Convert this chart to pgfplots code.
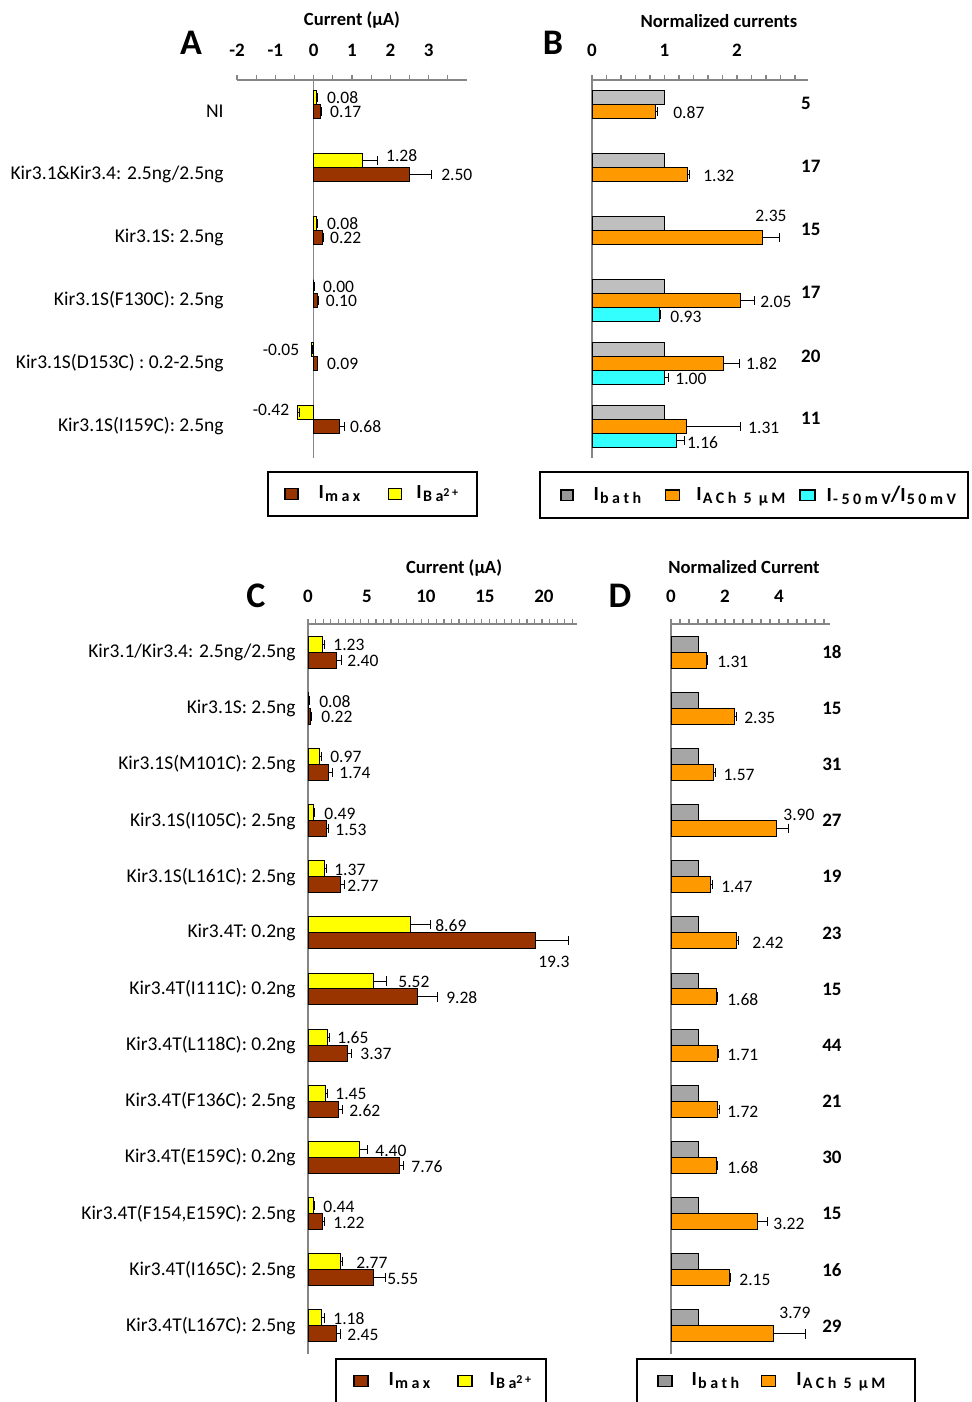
\documentclass[border=0pt]{standalone}
\usepackage{fontspec}
\setmainfont{Carlito}
\usepackage{pgfplots}
\pgfplotsset{compat=1.18}
\definecolor{cbrown}{HTML}{993300}
\definecolor{cyellow}{HTML}{FFFF00}
\definecolor{cgrayB}{HTML}{BFBFBF}
\definecolor{cgrayD}{HTML}{A6A6A6}
\definecolor{corange}{HTML}{FF9900}
\definecolor{ccyan}{HTML}{33FFFF}
\definecolor{caxis}{HTML}{868686}
\definecolor{clegray}{HTML}{999999}
\newcommand{\LI}[1]{{\fontsize{10}{12}\selectfont\bfseries I}\hspace{0.6pt}\raisebox{-1.5pt}{\fontsize{8}{9}\selectfont\bfseries\addfontfeature{LetterSpace=22}#1}}
\newcommand{\sqimg}[3]{\addlegendimage{legend image code/.code={\path[draw=none,fill=none] (-#2,0)--(0,0); \draw[fill=#1,draw=black,line width=0.6pt] (0pt,-2.6pt) rectangle (#3,2.6pt);}}}
\pgfplotsset{
  panel/.style={
    scale only axis, anchor=north west, clip=false,
    axis x line*=top, axis y line*=left,
    axis line style={draw=caxis, line width=0.75pt},
    tick align=outside,
    major tick length=0pt, minor tick length=2.5pt,
    minor tick style={draw=caxis, line width=0.6pt},
    major tick style={draw=none},
    ytick style={draw=none},
    xticklabel style={font=\fontsize{9.5}{11}\selectfont\bfseries, anchor=center},
    yticklabel style={font=\fontsize{9.75}{11}\selectfont, anchor=east, inner sep=0pt},
    xbar,
    legend style={draw=black, line width=1pt, inner xsep=5pt, inner ysep=7pt, column sep=0pt,
      nodes={inner sep=0pt, anchor=west}},
  },
  mybar/.style={bar shift=0pt, draw=black, line width=0.5pt, forget plot},
  ebx/.style={error bars/.cd, x dir=plus, x explicit,
    error bar style={black, line width=0.5pt},
    error mark options={black, mark size=2.3pt, line width=0.5pt, rotate=90}},
}
\tikzset{
  vl/.style={anchor=west, inner sep=0pt, font=\fontsize{8.75}{10}\selectfont},
  vlr/.style={anchor=east, inner sep=0pt, font=\fontsize{8.75}{10}\selectfont},
  nl/.style={anchor=west, inner sep=0pt, font=\fontsize{9.5}{11}\selectfont\bfseries},
  ttl/.style={font=\fontsize{9.3}{11}\selectfont\bfseries, anchor=center},
}
\begin{document}
\begin{tikzpicture}
\path[use as bounding box] (0,0) rectangle (485.5pt,-701pt);

% ---------------- Panel A ----------------
\begin{axis}[panel, at={(118.5pt,-40pt)}, width=115pt, height=189pt,
  xmin=-2, xmax=4, ymin=-5.5, ymax=0.5,
  xtick={-2,-1,0,1,2,3}, xticklabels={-2,-1,0,1,2,3},
  minor xtick={-2,-1.5,...,3.5},
  ytick={-5,-4,-3,-2,-1,0},
  yticklabels={Kir3.1S(I159C): 2.5ng, {Kir3.1S(D153C) : 0.2-2.5ng}, Kir3.1S(F130C): 2.5ng, Kir3.1S: 2.5ng, Kir3.1\&Kir3.4: 2.5ng/2.5ng, NI},
  bar width=0.222,
  y axis line style={draw=none},
  xticklabel style={yshift=15pt}, yticklabel style={xshift=-6.5pt},
  legend columns=2,
  legend style={at={(0.1304,-0.0344)}, anchor=north west},
]
\draw[caxis, line width=0.75pt] (axis cs:0,0.5) -- (axis cs:0,-5.5);
\addplot[fill=cyellow, mybar, ebx] coordinates {
  (0.08,0.222) +- (0.02,0) (1.28,-0.778) +- (0.39,0) (0.08,-1.778) +- (0.02,0)
  (0.00,-2.778) +- (0.01,0) (-0.05,-3.778) +- (0.02,0) (-0.42,-4.778) +- (0.05,0)};
\addplot[fill=cbrown, mybar, ebx] coordinates {
  (0.17,0) +- (0.03,0) (2.50,-1) +- (0.57,0) (0.22,-2) +- (0.04,0)
  (0.10,-3) +- (0.02,0) (0.09,-4) +- (0.02,0) (0.68,-5) +- (0.13,0)};
\sqimg{cbrown}{3.5pt}{6.5pt}
\addlegendentry{\hspace*{10pt}\LI{max}\hspace*{14pt}}
\sqimg{cyellow}{0pt}{6.5pt}
\addlegendentry{\hspace*{7pt}\LI{Ba\textsuperscript{2+}}\hspace*{4pt}}
\node[vl] at (axis cs:0.34,0.222) {0.08};
\node[vl] at (axis cs:0.42,0) {0.17};
\node[vl] at (axis cs:1.88,-0.70) {1.28};
\node[vl] at (axis cs:3.32,-1) {2.50};
\node[vl] at (axis cs:0.34,-1.778) {0.08};
\node[vl] at (axis cs:0.42,-2) {0.22};
\node[vl] at (axis cs:0.235,-2.778) {0.00};
\node[vl] at (axis cs:0.31,-3) {0.10};
\node[vlr] at (axis cs:-0.366,-3.778) {-0.05};
\node[vl] at (axis cs:0.34,-4) {0.09};
\node[vlr] at (axis cs:-0.627,-4.74) {-0.42};
\node[vl] at (axis cs:0.94,-5) {0.68};
\node[ttl] at (axis description cs:0.5,1) [yshift=30pt] {Current (µA)};
\end{axis}

% ---------------- Panel B ----------------
\begin{axis}[panel, at={(296pt,-40pt)}, width=108pt, height=189pt,
  xmin=0, xmax=2.98, ymin=-5.5, ymax=0.5,
  xtick={0,1,2}, xticklabels={0,1,2},
  minor xtick={0,0.2,...,2.81},
  ytick=\empty,
  bar width=0.222,
  xticklabel style={yshift=15pt},
  legend columns=3,
  legend style={at={(-0.2454,-0.0344)}, anchor=north west},
]
\addplot[fill=cgrayB, mybar] coordinates {
  (1,0.222) (1,-0.778) (1,-1.778) (1,-2.778) (1,-3.778) (1,-4.778)};
\addplot[fill=corange, mybar, ebx] coordinates {
  (0.87,0) +- (0.04,0) (1.32,-1) +- (0.03,0) (2.35,-2) +- (0.23,0)
  (2.05,-3) +- (0.19,0) (1.82,-4) +- (0.21,0) (1.31,-5) +- (0.74,0)};
\addplot[fill=ccyan, mybar, ebx] coordinates {
  (0.93,-3.222) +- (0.02,0) (1.00,-4.222) +- (0.05,0) (1.16,-5.222) +- (0.12,0)};
\sqimg{clegray}{5.5pt}{6pt}
\addlegendentry{\hspace*{10pt}\LI{bath}\hspace*{12pt}}
\sqimg{corange}{0pt}{7pt}
\addlegendentry{\hspace*{8pt}\LI{ACh 5 µM}\hspace*{7pt}}
\sqimg{ccyan}{0pt}{7.5pt}
\addlegendentry{\hspace*{5.5pt}\LI{-50mV}{\fontsize{11}{12}\selectfont\bfseries/}\LI{50mV}\hspace*{1pt}}
\node[vl] at (axis cs:1.117,-0.02) {0.87};
\node[vl] at (axis cs:1.53,-1.02) {1.32};
\node[vl] at (axis cs:2.25,-1.66) {2.35};
\node[vl] at (axis cs:2.317,-3.03) {2.05};
\node[vl] at (axis cs:1.076,-3.26) {0.93};
\node[vl] at (axis cs:2.12,-4.0) {1.82};
\node[vl] at (axis cs:1.145,-4.25) {1.00};
\node[vl] at (axis cs:2.15,-5.02) {1.31};
\node[vl] at (axis cs:1.306,-5.26) {1.16};
\node[nl] at (axis cs:2.88,0.13) {5};
\node[nl] at (axis cs:2.88,-0.87) {17};
\node[nl] at (axis cs:2.88,-1.87) {15};
\node[nl] at (axis cs:2.88,-2.87) {17};
\node[nl] at (axis cs:2.88,-3.88) {20};
\node[nl] at (axis cs:2.88,-4.87) {11};
\node[ttl] at (axis description cs:0.588,1) [yshift=29.5pt] {Normalized currents};
\end{axis}

% ---------------- Panel C ----------------
\begin{axis}[panel, at={(154pt,-312pt)}, width=134.5pt, height=365pt,
  xmin=0, xmax=22.8, ymin=-12.5, ymax=0.5,
  xtick={0,5,10,15,20}, xticklabels={0,5,10,15,20},
  minor xtick={0,0.64,...,22.5},
  ytick={-12,-11,-10,-9,-8,-7,-6,-5,-4,-3,-2,-1,0},
  yticklabels={Kir3.4T(L167C): 2.5ng, Kir3.4T(I165C): 2.5ng, {Kir3.4T(F154,E159C): 2.5ng}, Kir3.4T(E159C): 0.2ng, Kir3.4T(F136C): 2.5ng, Kir3.4T(L118C): 0.2ng, Kir3.4T(I111C): 0.2ng, Kir3.4T: 0.2ng, Kir3.1S(L161C): 2.5ng, Kir3.1S(I105C): 2.5ng, Kir3.1S(M101C): 2.5ng, Kir3.1S: 2.5ng, Kir3.1/Kir3.4: 2.5ng/2.5ng},
  bar width=0.285,
  xticklabel style={yshift=14pt}, yticklabel style={xshift=-6pt},
  legend columns=2,
  legend style={at={(0.1004,-0.0055)}, anchor=north west},
]
\addplot[fill=cyellow, mybar, ebx] coordinates {
  (1.23,0.142) +- (0.15,0) (0.08,-0.858) +- (0.03,0) (0.97,-1.858) +- (0.15,0)
  (0.49,-2.858) +- (0.1,0) (1.37,-3.858) +- (0.2,0) (8.69,-4.858) +- (1.67,0)
  (5.52,-5.858) +- (1.15,0) (1.65,-6.858) +- (0.15,0) (1.45,-7.858) +- (0.2,0)
  (4.40,-8.858) +- (0.65,0) (0.44,-9.858) +- (0.1,0) (2.77,-10.858) +- (0.15,0)
  (1.18,-11.858) +- (0.2,0)};
\addplot[fill=cbrown, mybar, ebx] coordinates {
  (2.40,-0.142) +- (0.4,0) (0.22,-1.142) +- (0.05,0) (1.74,-2.142) +- (0.3,0)
  (1.53,-3.142) +- (0.2,0) (2.77,-4.142) +- (0.35,0) (19.3,-5.142) +- (2.8,0)
  (9.28,-6.142) +- (1.67,0) (3.37,-7.142) +- (0.35,0) (2.62,-8.142) +- (0.3,0)
  (7.76,-9.142) +- (0.3,0) (1.22,-10.142) +- (0.2,0) (5.55,-11.142) +- (1.0,0)
  (2.45,-12.142) +- (0.3,0)};
\sqimg{cbrown}{4pt}{7pt}
\addlegendentry{\hspace*{10pt}\LI{max}\hspace*{13.5pt}}
\sqimg{cyellow}{0pt}{7pt}
\addlegendentry{\hspace*{8.5pt}\LI{Ba\textsuperscript{2+}}\hspace*{2pt}}
\node[vl] at (axis cs:2.12,0.126) {1.23};
\node[vl] at (axis cs:3.31,-0.158) {2.40};
\node[vl] at (axis cs:0.93,-0.874) {0.08};
\node[vl] at (axis cs:1.10,-1.158) {0.22};
\node[vl] at (axis cs:1.86,-1.874) {0.97};
\node[vl] at (axis cs:2.63,-2.158) {1.74};
\node[vl] at (axis cs:1.36,-2.874) {0.49};
\node[vl] at (axis cs:2.29,-3.158) {1.53};
\node[vl] at (axis cs:2.20,-3.874) {1.37};
\node[vl] at (axis cs:3.31,-4.158) {2.77};
\node[vl] at (axis cs:10.76,-4.874) {8.69};
\node[vl] at (axis cs:19.49,-5.52) {19.3};
\node[vl] at (axis cs:7.63,-5.874) {5.52};
\node[vl] at (axis cs:11.69,-6.158) {9.28};
\node[vl] at (axis cs:2.46,-6.874) {1.65};
\node[vl] at (axis cs:4.41,-7.158) {3.37};
\node[vl] at (axis cs:2.29,-7.874) {1.45};
\node[vl] at (axis cs:3.47,-8.158) {2.62};
\node[vl] at (axis cs:5.68,-8.874) {4.40};
\node[vl] at (axis cs:8.73,-9.158) {7.76};
\node[vl] at (axis cs:1.27,-9.874) {0.44};
\node[vl] at (axis cs:2.12,-10.158) {1.22};
\node[vl] at (axis cs:4.07,-10.874) {2.77};
\node[vl] at (axis cs:6.69,-11.158) {5.55};
\node[vl] at (axis cs:2.12,-11.874) {1.18};
\node[vl] at (axis cs:3.31,-12.158) {2.45};
\node[ttl] at (axis description cs:0.543,1) [yshift=28pt] {Current (µA)};
\end{axis}

% ---------------- Panel D ----------------
\begin{axis}[panel, at={(335.5pt,-312pt)}, width=79.5pt, height=365pt,
  xmin=0, xmax=5.89, ymin=-12.5, ymax=0.5,
  xtick={0,2,4}, xticklabels={0,2,4},
  minor xtick={0,0.3333,...,5.8},
  ytick=\empty,
  bar width=0.285,
  xticklabel style={yshift=14pt},
  legend columns=2,
  legend style={at={(-0.220,-0.0055)}, anchor=north west},
]
\addplot[fill=cgrayD, mybar] coordinates {
  (1,0.142) (1,-0.858) (1,-1.858) (1,-2.858) (1,-3.858) (1,-4.858) (1,-5.858)
  (1,-6.858) (1,-7.858) (1,-8.858) (1,-9.858) (1,-10.858) (1,-11.858)};
\addplot[fill=corange, mybar, ebx] coordinates {
  (1.31,-0.142) +- (0.06,0) (2.35,-1.142) +- (0.06,0) (1.57,-2.142) +- (0.06,0)
  (3.90,-3.142) +- (0.45,0) (1.47,-4.142) +- (0.05,0) (2.42,-5.142) +- (0.07,0)
  (1.68,-6.142) +- (0.04,0) (1.71,-7.142) +- (0.04,0) (1.72,-8.142) +- (0.06,0)
  (1.68,-9.142) +- (0.04,0) (3.22,-10.142) +- (0.37,0) (2.15,-11.142) +- (0.07,0)
  (3.79,-12.142) +- (1.2,0)};
\sqimg{clegray}{5.5pt}{7pt}
\addlegendentry{\hspace*{9.5pt}\LI{bath}\hspace*{11pt}}
\sqimg{corange}{0pt}{7pt}
\addlegendentry{\hspace*{10pt}\LI{ACh 5 µM}\hspace*{10pt}}
\node[vl] at (axis cs:1.70,-0.18) {1.31};
\node[vl] at (axis cs:2.70,-1.18) {2.35};
\node[vl] at (axis cs:1.93,-2.18) {1.57};
\node[vl] at (axis cs:4.15,-2.90) {3.90};
\node[vl] at (axis cs:1.85,-4.18) {1.47};
\node[vl] at (axis cs:3.00,-5.18) {2.42};
\node[vl] at (axis cs:2.07,-6.18) {1.68};
\node[vl] at (axis cs:2.07,-7.18) {1.71};
\node[vl] at (axis cs:2.07,-8.18) {1.72};
\node[vl] at (axis cs:2.07,-9.18) {1.68};
\node[vl] at (axis cs:3.78,-10.18) {3.22};
\node[vl] at (axis cs:2.52,-11.18) {2.15};
\node[vl] at (axis cs:4.00,-11.77) {3.79};
\node[nl] at (axis cs:5.59,0) {18};
\node[nl] at (axis cs:5.59,-1) {15};
\node[nl] at (axis cs:5.59,-2) {31};
\node[nl] at (axis cs:5.59,-3) {27};
\node[nl] at (axis cs:5.59,-4) {19};
\node[nl] at (axis cs:5.59,-5) {23};
\node[nl] at (axis cs:5.59,-6) {15};
\node[nl] at (axis cs:5.59,-7) {44};
\node[nl] at (axis cs:5.59,-8) {21};
\node[nl] at (axis cs:5.59,-9) {30};
\node[nl] at (axis cs:5.59,-10) {15};
\node[nl] at (axis cs:5.59,-11) {16};
\node[nl] at (axis cs:5.59,-12) {29};
\node[ttl] at (axis description cs:0.459,1) [yshift=28.5pt] {Normalized Current};
\end{axis}

\node[font=\fontsize{18}{20}\selectfont\bfseries] at (95.5pt,-21.5pt) {A};
\node[font=\fontsize{18}{20}\selectfont\bfseries] at (276.5pt,-21.5pt) {B};
\node[font=\fontsize{18}{20}\selectfont\bfseries] at (128pt,-298pt) {C};
\node[font=\fontsize{18}{20}\selectfont\bfseries] at (310pt,-298pt) {D};
\end{tikzpicture}
\end{document}
